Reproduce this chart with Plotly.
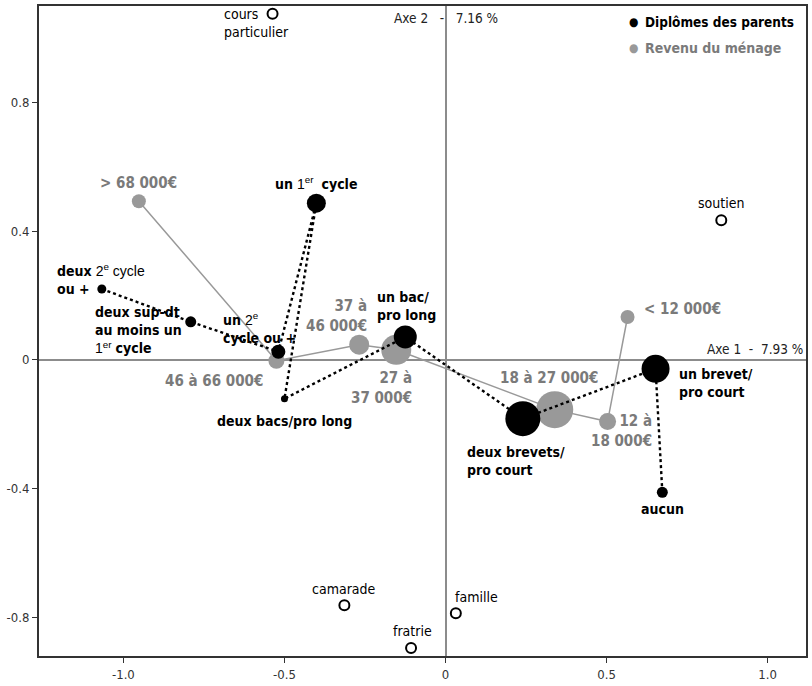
import plotly.graph_objects as go

# ---------------- data ----------------
# Diplômes des parents (black, dotted path)
dip_labels = ["deux ou + 2e cycle", "deux sup dt au moins un 1er cycle", "un 2e cycle ou +",
              "un 1er cycle", "deux bacs/pro long", "un bac/pro long",
              "deux brevets/pro court", "un brevet/pro court", "aucun"]
dip_x = [-1.067, -0.791, -0.519, -0.401, -0.500, -0.125, 0.240, 0.652, 0.673]
dip_y = [0.220, 0.118, 0.025, 0.487, -0.121, 0.071, -0.183, -0.028, -0.412]
dip_weight = [9, 11, 14, 19, 7, 23, 35, 28, 11]

# Revenu du ménage (grey, solid path)
rev_labels = ["> 68 000€", "46 à 66 000€", "37 à 46 000€", "27 à 37 000€",
              "18 à 27 000€", "12 à 18 000€", "< 12 000€"]
rev_x = [-0.952, -0.525, -0.268, -0.153, 0.339, 0.503, 0.565]
rev_y = [0.493, -0.003, 0.047, 0.031, -0.155, -0.192, 0.133]
rev_weight = [14, 16, 20, 30, 37, 17, 14]

# Supplementary variables (open circles)
sup_labels = ["cours particulier", "soutien", "camarade", "famille", "fratrie"]
sup_x = [-0.537, 0.856, -0.314, 0.032, -0.107]
sup_y = [1.076, 0.434, -0.763, -0.788, -0.896]

x_ticks = [-1.0, -0.5, 0, 0.5, 1.0]
x_ticktext = ["-1.0", "-0.5", "0", "0.5", "1.0"]
y_ticks = [-0.8, -0.4, 0, 0.4, 0.8]
y_ticktext = ["-0.8", "-0.4", "0", "0.4", "0.8"]

axis1_title = "Axe 1&nbsp;&nbsp;-&nbsp;&nbsp;7.93 %"
axis2_title = "Axe 2&nbsp;&nbsp;&nbsp;-&nbsp;&nbsp;&nbsp;7.16 %"

# ---------------- style ----------------
FONT = "DejaVu Sans Condensed, Liberation Sans Narrow, Roboto, sans-serif"
GREY_M = "#999999"
GREY_T = "#7a7a7a"

fig = go.Figure()

fig.add_trace(go.Scatter(
    x=rev_x, y=rev_y, mode="lines+markers",
    line=dict(color=GREY_M, width=1.5),
    marker=dict(size=rev_weight, color=GREY_M, opacity=1, line=dict(width=0)),
    hoverinfo="text", text=rev_labels, showlegend=False))

fig.add_trace(go.Scatter(
    x=dip_x, y=dip_y, mode="lines+markers",
    line=dict(color="black", width=2.4, dash="dot"),
    marker=dict(size=dip_weight, color="black", opacity=1, line=dict(width=0)),
    hoverinfo="text", text=dip_labels, showlegend=False))

fig.add_trace(go.Scatter(
    x=sup_x, y=sup_y, mode="markers",
    marker=dict(size=10, color="white", opacity=1, line=dict(width=2, color="black")),
    hoverinfo="text", text=sup_labels, showlegend=False))

def sup1(s):
    return "<span style='font-family:Liberation Sans;font-weight:normal'>" + s + "</span>"

# label text, per point: (html, xanchor, yanchor, xshift, yshift, align)
dip_text = [
    ("<b>deux</b> " + sup1("2<sup>e</sup> cycle") + "<br><b>ou +</b>", "left", "middle", -47, 10, "left"),
    ("<b>deux sup-dt</b><br><b>au moins un</b><br>" + sup1("1<sup>er</sup>") + " <b>cycle</b>", "left", "middle", -98, -8, "left"),
    ("<b>un</b> " + sup1("2<sup>e</sup>") + "<br><b>cycle ou +</b>", "left", "middle", -57, 24, "left"),
    ("<b>un</b> " + sup1("1<sup>er</sup>") + "  <b>cycle</b>", "center", "middle", 0, 20, "center"),
    ("<b>deux bacs/pro long</b>", "center", "middle", 0, -22, "center"),
    ("<b>un bac/</b><br><b>pro long</b>", "center", "middle", 1, 31, "left"),
    ("<b>deux brevets/</b><br><b>pro court</b>", "left", "middle", -58, -42, "left"),
    ("<b>un brevet/</b><br><b>pro court</b>", "left", "middle", 21, -14, "left"),
    ("<b>aucun</b>", "center", "middle", 0, -17, "center"),
]
rev_text = [
    ("<b>> 68 000€</b>", "center", "middle", 0, 18, "center"),
    ("<b>46 à 66 000€</b>", "center", "middle", -62, -20, "center"),
    ("<b>37 à</b><br><b>46 000€</b>", "right", "middle", 10, 29, "right"),
    ("<b>27 à</b><br><b>37 000€</b>", "right", "middle", 18, -38, "right"),
    ("<b>18 à 27 000€</b>", "center", "middle", -6, 32, "center"),
    ("<b>12 à</b><br><b>18 000€</b>", "right", "middle", 46, -9, "right"),
    ("<b>< 12 000€</b>", "left", "middle", 14, 8, "left"),
]
sup_text = [
    ("cours<br>particulier", "left", "middle", -51, -9, "left"),
    ("soutien", "center", "middle", 0, 17, "center"),
    ("camarade", "center", "middle", 0, 16, "center"),
    ("famille", "left", "middle", -3, 16, "left"),
    ("fratrie", "center", "middle", 1, 17, "center"),
]

def add_labels(xs, ys, specs, color, size):
    for xv, yv, (t, xa, ya, dx, dy, al) in zip(xs, ys, specs):
        fig.add_annotation(x=xv, y=yv, text=t, showarrow=False,
                           xanchor=xa, yanchor=ya, xshift=dx, yshift=dy, align=al,
                           font=dict(family=FONT, size=size, color=color))

add_labels(dip_x, dip_y, dip_text, "black", 14)
add_labels(rev_x, rev_y, rev_text, GREY_T, 15)
add_labels(sup_x, sup_y, sup_text, "black", 14)

# axis titles
fig.add_annotation(x=0, y=1, xref="x", yref="paper", yshift=-2, text=axis2_title,
                   showarrow=False, xanchor="center", yanchor="top",
                   font=dict(family=FONT, size=13.5, color="#222"))
fig.add_annotation(x=1, y=0, xref="paper", yref="y", yshift=1, xshift=-1, text=axis1_title,
                   showarrow=False, xanchor="right", yanchor="bottom",
                   font=dict(family=FONT, size=13.5, color="#222"))

# legend (manual)
leg_text_x = (648 - 39) / 769
leg_dot_x = (635 - 39) / 769
fig.add_annotation(x=leg_text_x, y=0.975, xref="paper", yref="paper",
                   text="<b>Diplômes des parents</b>", showarrow=False,
                   xanchor="left", yanchor="middle", xshift=-3,
                   font=dict(family=FONT, size=13.5, color="black"))
fig.add_annotation(x=leg_dot_x, y=0.975, xref="paper", yref="paper",
                   text="●", showarrow=False, xanchor="center", yanchor="middle",
                   font=dict(family=FONT, size=12, color="black"))
fig.add_annotation(x=leg_text_x, y=0.935, xref="paper", yref="paper",
                   text="<b>Revenu du ménage</b>", showarrow=False,
                   xanchor="left", yanchor="middle", xshift=-3,
                   font=dict(family=FONT, size=14, color=GREY_T))
fig.add_annotation(x=leg_dot_x, y=0.935, xref="paper", yref="paper",
                   text="●", showarrow=False, xanchor="center", yanchor="middle",
                   font=dict(family=FONT, size=12, color=GREY_M))

axis_common = dict(showgrid=False, zeroline=True, zerolinecolor="#8c8c8c", zerolinewidth=1.5,
                   showline=True, linecolor="#333", linewidth=2, mirror=True,
                   ticks="outside", ticklen=5, tickcolor="#333",
                   tickfont=dict(family=FONT, size=13, color="#333"))

fig.update_xaxes(range=[-1.262, 1.119], tickvals=x_ticks, ticktext=x_ticktext, **axis_common)
fig.update_yaxes(range=[-0.921, 1.10], tickvals=y_ticks, ticktext=y_ticktext, **axis_common)

fig.update_layout(width=812, height=686, plot_bgcolor="white", paper_bgcolor="white",
                  margin=dict(l=39, r=4, t=6, b=28), showlegend=False)

fig.write_html("out.html", config={"displayModeBar": False},
               post_script="document.body.style.margin='0';")
